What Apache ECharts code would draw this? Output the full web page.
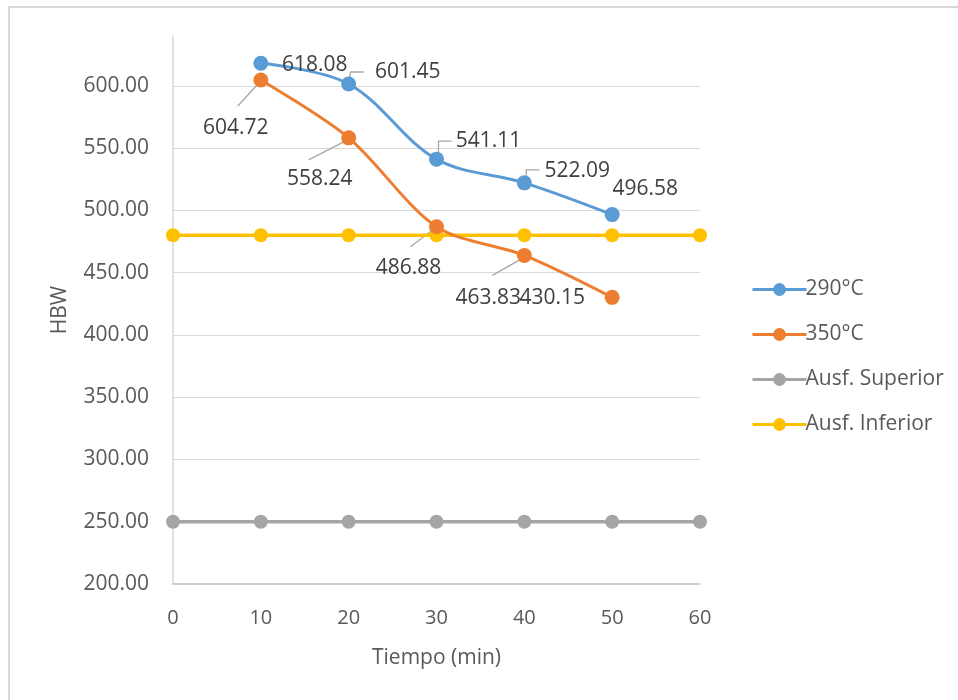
<!DOCTYPE html>
<html><head><meta charset="utf-8">
<script src="https://cdn.jsdelivr.net/npm/echarts@6/dist/echarts.min.js"></script>
<style>
html,body{margin:0;padding:0;background:#fff;}
#frame{position:absolute;left:8px;top:6px;width:980px;height:720px;border:2px solid #d9d9d9;box-sizing:border-box;}
#chart{position:absolute;left:0;top:0;width:958px;height:700px;}
</style></head>
<body>
<div id="frame"></div>
<div id="chart"></div>
<script>
var times = [0, 10, 20, 30, 40, 50, 60];
var seriesNames = ['290°C', '350°C', 'Ausf. Superior', 'Ausf. Inferior'];
var t290x = [10, 20, 30, 40, 50];
var v290 = [618.08, 601.45, 541.11, 522.09, 496.58];
var t350x = [10, 20, 30, 40, 50];
var v350 = [604.72, 558.24, 486.88, 463.83, 430.15];
var vSup = [250, 250, 250, 250, 250, 250, 250];
var vInf = [480, 480, 480, 480, 480, 480, 480];
var colors = ['#5B9BD5', '#ED7D31', '#A5A5A5', '#FFC000'];

// label offsets (px) relative to the point centre
var off290 = [[54, 2], [59, -12], [52, -18], [53, -12], [33, -26]];
var off350 = [[-25, 48], [-29, 41], [-28, 41], [-36, 43], [-60, 1]];
// leader line offsets (px) relative to the point centre
var lead290 = [null, [[1, -7], [2, -12], [15, -12]], [[2, -7], [2, -18], [15, -18]], [[2, -7], [2, -13], [15, -13]], null];
var lead350 = [[[-2, 3], [-23, 26]], [[-3, 3], [-40, 22]], [[-1, 1], [-26, 20]], [[-2, 3], [-32, 20]], null];

function pairs(xs, ys) { return xs.map(function (x, i) { return [x, ys[i]]; }); }

var font = 'Open Sans';
var txt = '#595959';
var lblTxt = '#404040';

function makeLayout(offs) {
  return function (p) {
    var r = p.rect;
    var cx = r.x + r.width / 2, cy = r.y + r.height / 2;
    var o = offs[p.dataIndex];
    return { x: cx + o[0], y: cy + o[1], align: 'center', verticalAlign: 'middle' };
  };
}

function lineSeries(idx, data, extra) {
  var s = {
    name: seriesNames[idx], type: 'line', data: data,
    symbol: 'circle', symbolSize: 15,
    itemStyle: { color: colors[idx] },
    lineStyle: { color: colors[idx], width: 3 }
  };
  for (var k in extra) s[k] = extra[k];
  return s;
}

function leaderSeries(data, leads) {
  return {
    type: 'custom', data: data, clip: false, silent: true, z: 1,
    encode: { x: 0, y: 1 },
    renderItem: function (params, api) {
      var l = leads[params.dataIndex];
      if (!l) return null;
      var pt = api.coord([api.value(0), api.value(1)]);
      return {
        type: 'polyline',
        shape: { points: l.map(function (s) { return [pt[0] + s[0], pt[1] + s[1]]; }) },
        style: { stroke: '#A6A6A6', lineWidth: 1.3, fill: null }
      };
    }
  };
}

var chart = echarts.init(document.getElementById('chart'), null, { renderer: 'canvas' });
chart.setOption({
  animation: false,
  backgroundColor: 'transparent',
  textStyle: { fontFamily: font },
  grid: { left: 173, right: 258, top: 36, bottom: 116 },
  xAxis: {
    type: 'value', min: 0, max: 60, interval: 10,
    name: 'Tiempo (min)', nameLocation: 'middle', nameGap: 64,
    nameTextStyle: { fontSize: 21, color: txt, fontFamily: font },
    axisLine: { lineStyle: { color: '#BFBFBF', width: 1.5 } },
    axisTick: { show: false },
    splitLine: { show: false },
    axisLabel: { fontSize: 20, color: txt, margin: 24, fontFamily: font }
  },
  yAxis: {
    type: 'value', min: 200, max: 640, interval: 50,
    name: 'HBW', nameLocation: 'middle', nameGap: 102,
    nameTextStyle: { fontSize: 21, color: txt, fontFamily: font },
    axisLine: { show: true, lineStyle: { color: '#D9D9D9', width: 1.5 } },
    axisTick: { show: false },
    splitLine: { show: true, showMaxLine: false, showMinLine: false, lineStyle: { color: '#D9D9D9', width: 1.2 } },
    axisLabel: { fontSize: 21, color: txt, margin: 24, fontFamily: font, showMaxLabel: false,
      formatter: function (v) { return v > 600 ? '' : v.toFixed(2); } }
  },
  legend: {
    orient: 'vertical', left: 746, top: 274,
    itemWidth: 54, itemHeight: 16, itemGap: 24,
    lineStyle: { width: 3 },
    textStyle: { fontSize: 21, color: txt, fontFamily: font, padding: [0, 0, 0, -6] },
    data: seriesNames
  },
  series: [
    leaderSeries(pairs(t290x, v290), lead290),
    leaderSeries(pairs(t350x, v350), lead350),
    lineSeries(2, pairs(times, vSup), { lineStyle: { color: colors[2], width: 3.5 }, symbolSize: 14, z: 2 }),
    lineSeries(3, pairs(times, vInf), { lineStyle: { color: colors[3], width: 3.5 }, symbolSize: 14, z: 2 }),
    lineSeries(0, pairs(t290x, v290), {
      smooth: 0.35, z: 3,
      label: { show: true, fontSize: 21, color: lblTxt, fontFamily: font,
        formatter: function (p) { return p.value[1].toFixed(2); } },
      labelLine: { show: false },
      labelLayout: makeLayout(off290)
    }),
    lineSeries(1, pairs(t350x, v350), {
      smooth: 0.3, z: 4,
      label: { show: true, fontSize: 21, color: lblTxt, fontFamily: font,
        formatter: function (p) { return p.value[1].toFixed(2); } },
      labelLine: { show: false },
      labelLayout: makeLayout(off350)
    })
  ]
});
</script>
</body></html>
